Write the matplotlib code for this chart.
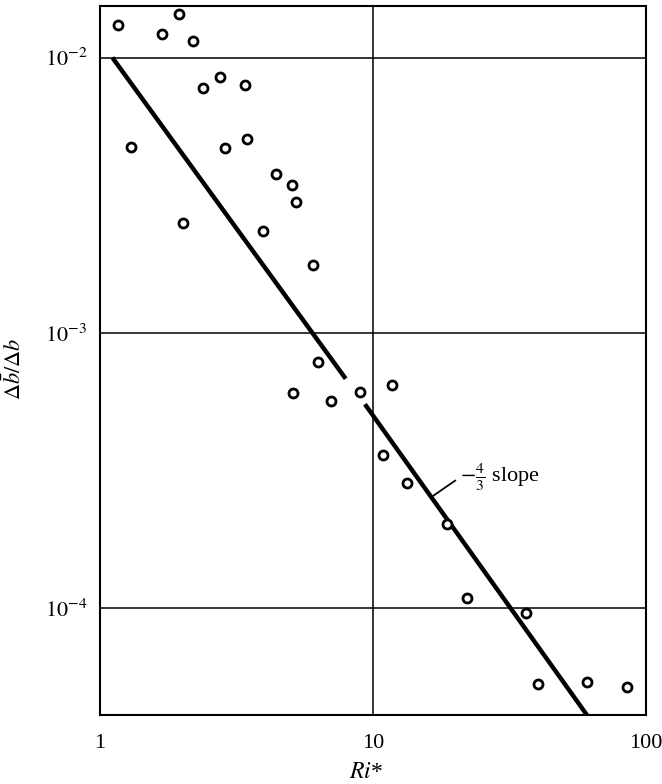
import numpy as np
import matplotlib.pyplot as plt

plt.rcParams['font.family'] = ['Liberation Serif', 'DejaVu Serif']
plt.rcParams['mathtext.fontset'] = 'stix'

# measured points, Ri* vs delta b-bar / delta b
ri = [1.16, 1.69, 1.95, 2.20, 2.39, 2.76, 3.40, 1.30, 2.86, 3.45,
      4.41, 5.07, 5.22, 2.01, 3.94, 6.04, 6.31, 5.09, 7.02, 8.95,
      11.7, 10.9, 13.3, 18.6, 22.0, 36.2, 40.2, 60.7, 84.9]
db = [0.0131, 0.0122, 0.0144, 0.0115, 0.00778, 0.00848, 0.00795, 0.00472, 0.00470, 0.00504,
      0.00379, 0.00344, 0.00299, 0.00250, 0.00234, 0.00176, 7.86e-4, 6.07e-4, 5.65e-4, 6.12e-4,
      6.47e-4, 3.60e-4, 2.86e-4, 2.03e-4, 1.09e-4, 9.6e-5, 5.33e-5, 5.39e-5, 5.18e-5]

# -4/3 slope line, drawn in two pieces
line1_x = [1.11, 7.94]
line1_y = [1.0e-2, 6.82e-4]
line2_x = [9.34, 60.7]
line2_y = [5.51e-4, 4.1e-5]

fig = plt.figure(figsize=(6.62, 7.84), dpi=100)
ax = fig.add_axes([0.151, 0.088, 0.825, 0.904])

ax.set_xscale('log')
ax.set_yscale('log')
ax.set_xlim(1, 100)
ax.set_ylim(4.1e-5, 0.01535)

# grid at the decades
ax.axvline(10, color='black', lw=1.1, zorder=1)
for yv in [1e-2, 1e-3, 1e-4]:
    ax.axhline(yv, color='black', lw=1.1, zorder=1)

ax.plot(line1_x, line1_y, color='black', lw=3.2, solid_capstyle='butt', zorder=2)
ax.plot(line2_x, line2_y, color='black', lw=3.2, solid_capstyle='butt', zorder=2)

ax.plot(ri, db, 'o', mfc='white', mec='black', ms=6.5, mew=2.0, ls='none', zorder=3)

ax.annotate(r'$-\frac{4}{3}$ slope', xy=(16.3, 2.53e-4), xytext=(20.9, 3.0e-4),
            fontsize=16, va='center', ha='left',
            arrowprops=dict(arrowstyle='-', color='black', lw=1.3,
                            shrinkA=2, shrinkB=0, relpos=(0, 0.5)))

ax.set_xticks([1, 10, 100])
ax.set_xticklabels(['1', '10', '100'])
ax.set_yticks([1e-4, 1e-3, 1e-2])
ax.set_yticklabels([r'$10^{-4}$', r'$10^{-3}$', r'$10^{-2}$'])
ax.minorticks_off()
ax.tick_params(axis='both', which='major', length=0, labelsize=16)
ax.tick_params(axis='x', pad=14)
ax.tick_params(axis='y', pad=9)

for s in ax.spines.values():
    s.set_linewidth(1.5)

ax.set_xlabel(r'$Ri$*', fontsize=17)
ax.set_ylabel(r'$\Delta\bar{b}/\Delta b$', fontsize=16)
ax.xaxis.set_label_coords(0.487, -0.066)
ax.yaxis.set_label_coords(-0.135, 0.488)

fig.savefig('out.png', dpi=100)
